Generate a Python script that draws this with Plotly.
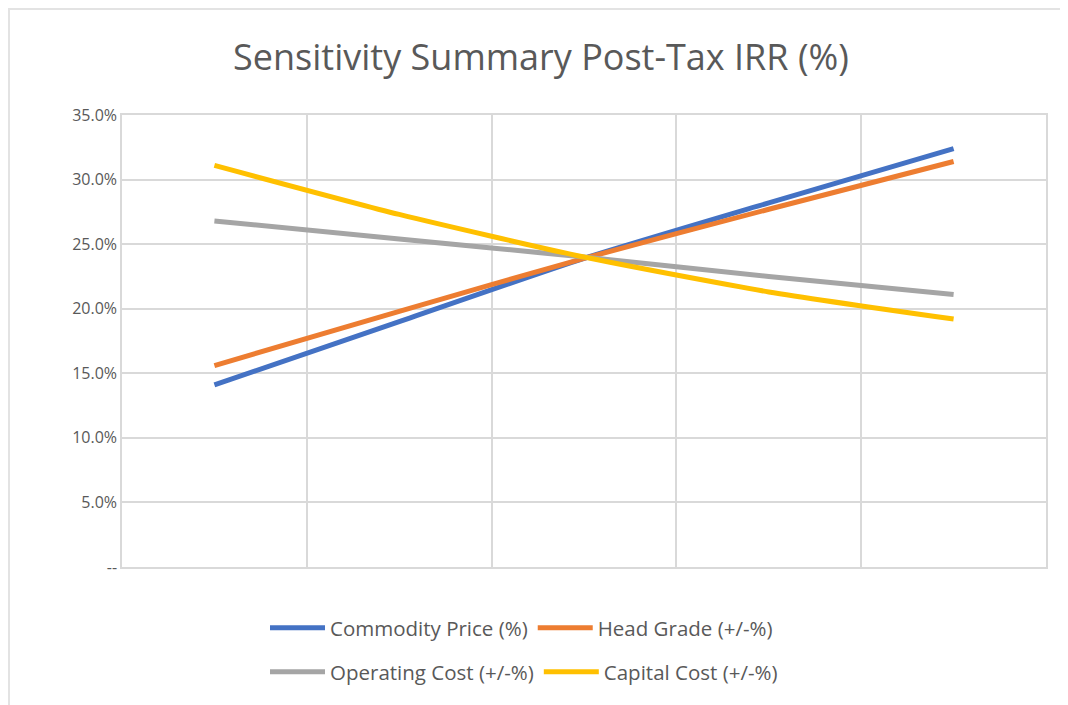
import plotly.graph_objects as go

categories = ["-20%", "-10%", "0%", "10%", "20%"]
commodity_price = [14.1, 19.0, 23.9, 28.2, 32.4]
head_grade = [15.6, 19.8, 23.9, 27.7, 31.4]
operating_cost = [26.8, 25.4, 24.0, 22.5, 21.1]
capital_cost = [31.1, 27.3, 24.0, 21.3, 19.2]

series_names = ["Commodity Price (%)", "Head Grade (+/-%)",
                "Operating Cost (+/-%)", "Capital Cost (+/-%)"]
colors = ["#4472C4", "#ED7D31", "#A5A5A5", "#FFC000"]
legend_ids = ["legend", "legend", "legend2", "legend2"]

y_tickvals = [0, 5, 10, 15, 20, 25, 30, 35]
y_ticktext = ["--", "5.0%", "10.0%", "15.0%", "20.0%", "25.0%", "30.0%", "35.0%"]

fig = go.Figure()
for name, vals, col, lg in zip(series_names,
                               [commodity_price, head_grade, operating_cost, capital_cost],
                               colors, legend_ids):
    fig.add_trace(go.Scatter(
        x=categories, y=vals, name=name, mode="lines",
        line=dict(color=col, width=5, shape="spline", smoothing=0.6),
        legend=lg,
    ))

W, H = 1068, 705
OFF = 8  # page body offset
# target plot-area pixel box (in screenshot coordinates)
PL, PR, PT, PB = 122, 1046, 115, 567
L = PL - OFF
T = PT - OFF
R = W - (PR - OFF)
B = H - (PB - OFF)
pw, ph = W - L - R, H - T - B


def px_x(x):
    return (x - OFF - L) / pw


def px_y(y):
    return (H - B - (y - OFF)) / ph


def cy(y):
    return 1 - (y - OFF) / H


def cx(x):
    return (x - OFF) / W


legend_font = dict(family="Open Sans", size=20.5, color="#595959")

fig.update_layout(
    width=W, height=H,
    margin=dict(l=L, r=R, t=T, b=B),
    paper_bgcolor="white", plot_bgcolor="white",
    title=dict(text="Sensitivity Summary Post-Tax IRR (%)",
               font=dict(family="Open Sans", size=36, color="#595959"),
               x=cx(541), xanchor="center", xref="container",
               y=cy(57), yanchor="middle", yref="container"),
    font=dict(family="Open Sans", color="#595959"),
    xaxis=dict(type="category", range=[-0.5, 4.5], tickson="boundaries",
               showticklabels=False, ticks="", showgrid=True,
               gridcolor="#D9D9D9", gridwidth=1.5,
               showline=True, linecolor="#D9D9D9", linewidth=1.5, mirror=True,
               zeroline=False),
    yaxis=dict(range=[0, 35], tickvals=y_tickvals, ticktext=y_ticktext,
               showgrid=True, gridcolor="#D9D9D9", gridwidth=1.5,
               showline=True, linecolor="#D9D9D9", linewidth=1.5, mirror=True,
               zeroline=False, ticks="", ticklen=0,
               tickfont=dict(family="Open Sans", size=16, color="#595959")),
    legend=dict(orientation="h", xref="container", yref="container",
                x=cx(265), xanchor="left", y=cy(628), yanchor="middle",
                font=legend_font, itemwidth=55, tracegroupgap=0,
                bgcolor="rgba(0,0,0,0)"),
    legend2=dict(orientation="h", xref="container", yref="container",
                 x=cx(265), xanchor="left", y=cy(672), yanchor="middle",
                 font=legend_font, itemwidth=55, tracegroupgap=0,
                 bgcolor="rgba(0,0,0,0)"),
    showlegend=True,
)

# outer chart border (top and left edges visible)
fig.add_shape(type="line", xref="paper", yref="paper",
              x0=px_x(OFF), x1=px_x(1080), y0=px_y(OFF + 1), y1=px_y(OFF + 1),
              line=dict(color="#E3E3E3", width=2))
fig.add_shape(type="line", xref="paper", yref="paper",
              x0=px_x(OFF + 1), x1=px_x(OFF + 1), y0=px_y(OFF), y1=px_y(720),
              line=dict(color="#E3E3E3", width=2))

fig.write_html("out.html")
